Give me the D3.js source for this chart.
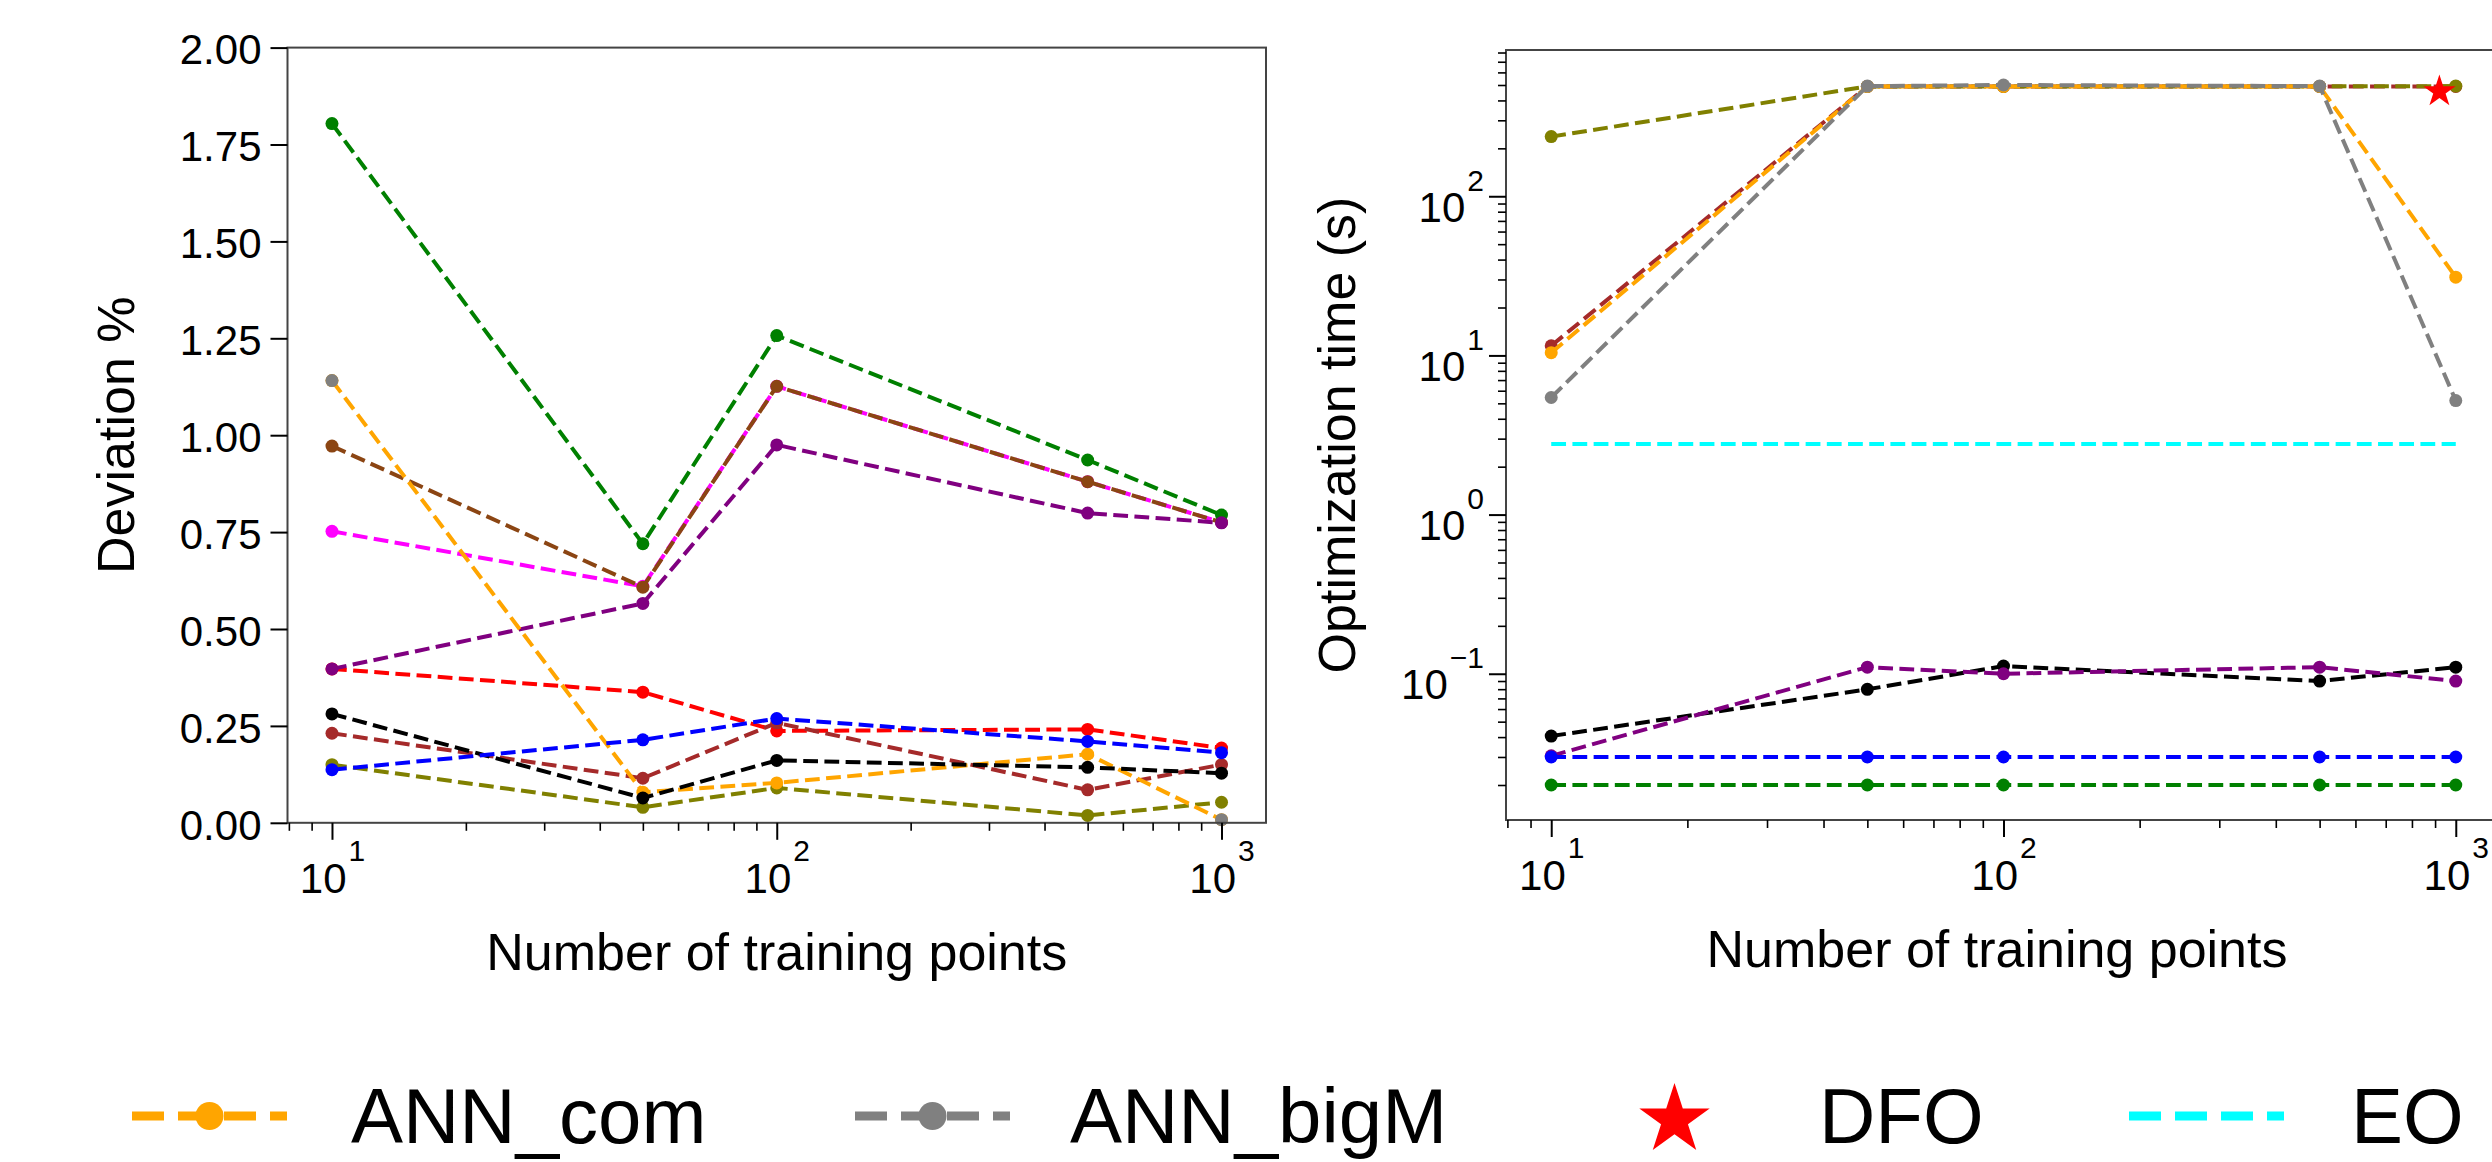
<!DOCTYPE html>
<html><head><meta charset="utf-8">
<script src="https://cdn.jsdelivr.net/npm/d3@7"></script>
<style>
html,body{margin:0;padding:0;background:#fff;}
svg{display:block;}
</style></head><body>
<svg id="chart" width="2492" height="1162"></svg>
<script>
// ---------------- DATA ----------------
const trainingPoints = [10, 50, 100, 500, 1000];

// Left panel: Deviation %
const devSaddleBrown = [0.972, 0.608, 1.126, 0.880, 0.775];
const devMagenta     = [0.752, 0.610, 1.126, 0.880, 0.775];
const devGreen       = [1.804, 0.720, 1.257, 0.936, 0.794];
const devRed         = [0.397, 0.337, 0.237, 0.241, 0.193];
const devPurple      = [0.397, 0.566, 0.975, 0.799, 0.774];
const devBrown       = [0.231, 0.115, 0.258, 0.085, 0.150];
const devOlive       = [0.150, 0.040, 0.090, 0.019, 0.053];
const devOrange      = [1.141, 0.079, 0.103, 0.177, 0.008];
const devGray        = [1.141, null, null, null, 0.008];
const devBlack       = [0.281, 0.064, 0.161, 0.143, 0.128];
const devBlue        = [0.137, 0.214, 0.269, 0.210, 0.181];

// Right panel: Optimization time (s)
const timeBrown  = [11.5, 490, 490, 490, 490];
const timeOlive  = [237, 490, 490, 490, 492];
const timeOrange = [10.4, 490, 490, 490, 31];
const timeGray   = [5.44, 492, 500, 492, 5.2];
const timeBlack  = [0.0406, 0.0798, 0.1117, 0.090, 0.110];
const timePurple = [0.0305, 0.110, 0.100, 0.110, 0.090];
const timeBlue   = [0.030, 0.030, 0.030, 0.030, 0.030];
const timeGreen  = [0.020, 0.020, 0.020, 0.020, 0.020];
const timeEO     = [2.78, 2.78, 2.78, 2.78, 2.78];
const dfoPoint   = [920, 455];

const devTicks = [0, 0.25, 0.5, 0.75, 1.0, 1.25, 1.5, 1.75, 2.0];
const devRange = [0, 2];
const logMajorX = [10, 100, 1000];
const logMajorY = [0.1, 1, 10, 100];

const legendLabels = ["ANN_com", "ANN_bigM", "DFO", "EO"];

// ---------------- STYLE ----------------
const FONT = '"Liberation Sans", Arial, Helvetica, sans-serif';
const LW = 4, DASH = "14.8,6.4", MR = 6.5;

const leftSeries = [
  {v: devMagenta, c: "#FF00FF"},
  {v: devSaddleBrown, c: "#8B4513"},
  {v: devGreen, c: "#008000"},
  {v: devRed, c: "#FF0000"},
  {v: devPurple, c: "#800080"},
  {v: devBrown, c: "#A52A2A"},
  {v: devOlive, c: "#808000"},
  {v: devOrange, c: "#FFA500"},
  {v: devGray, c: "#808080"},
  {v: devBlack, c: "#000000"},
  {v: devBlue, c: "#0000FF"}
];
const rightSeries = [
  {v: timeBrown, c: "#A52A2A"},
  {v: timeOlive, c: "#808000"},
  {v: timeOrange, c: "#FFA500"},
  {v: timeGray, c: "#808080"},
  {v: timeBlack, c: "#000000"},
  {v: timePurple, c: "#800080"},
  {v: timeBlue, c: "#0000FF"},
  {v: timeGreen, c: "#008000"}
];

const leftBox  = {x0: 287.5, x1: 1266, y0: 47.6, y1: 822.8};
const rightBox = {x0: 1506, x1: 2501, y0: 50, y1: 820};

const svg = d3.select("#chart").style("font-family", FONT);

function logPad(ext) {
  const a = Math.log10(ext[0]), b = Math.log10(ext[1]), p = (b - a) * 0.05;
  return [Math.pow(10, a - p), Math.pow(10, b + p)];
}
const isPow10 = v => Math.abs(Math.log10(v) - Math.round(Math.log10(v))) < 1e-9;

const xL = d3.scaleLog().domain(logPad(d3.extent(trainingPoints))).range([leftBox.x0, leftBox.x1]);
const yL = d3.scaleLinear().domain(devRange).range([leftBox.y1, leftBox.y0]);
const xR = d3.scaleLog().domain(logPad(d3.extent(trainingPoints))).range([rightBox.x0, rightBox.x1]);
const allTimes = [].concat(...rightSeries.map(s => s.v), timeEO).filter(v => v != null);
const yR = d3.scaleLog().domain(logPad(d3.extent(allTimes))).range([rightBox.y1, rightBox.y0]);

function starPath(R) {
  const r = R * 0.381966;
  const pts = [];
  for (let i = 0; i < 10; i++) {
    const ang = -Math.PI / 2 + i * Math.PI / 5;
    const rr = i % 2 === 0 ? R : r;
    pts.push([rr * Math.cos(ang), rr * Math.sin(ang)]);
  }
  return "M" + pts.map(p => p[0].toFixed(2) + "," + p[1].toFixed(2)).join("L") + "Z";
}

function styleTicks(g, w) {
  g.select(".domain").remove();
  g.selectAll(".tick line").attr("stroke", "#000").attr("stroke-width", w);
}

function powLabelX(g) {
  g.selectAll(".tick").each(function(d) {
    const t = d3.select(this);
    const e = String(Math.round(Math.log10(d))).replace("-", "\u2212");
    const sup = t.append("text").attr("x", 17).attr("y", 38)
      .attr("font-size", 30).attr("fill", "#000").attr("text-anchor", "start").text(e);
    const sw = sup.node().getComputedTextLength();
    const base = t.append("text").attr("y", 70).attr("font-size", 42).attr("fill", "#000")
      .attr("text-anchor", "end").text("10");
    const bw = base.node().getComputedTextLength();
    const total = bw + 2 + sw;
    const start = -total / 2;
    base.attr("x", start + bw);
    sup.attr("x", start + bw + 2);
  });
}
function powLabelY(g) {
  g.selectAll(".tick").each(function(d) {
    const t = d3.select(this);
    const e = String(Math.round(Math.log10(d))).replace("-", "\u2212");
    const sup = t.append("text").attr("x", -22).attr("y", -6)
      .attr("font-size", 30).attr("fill", "#000").attr("text-anchor", "end").text(e);
    const sw = sup.node().getComputedTextLength();
    t.append("text").attr("x", -22 - sw - 2).attr("y", 25).attr("font-size", 42)
      .attr("fill", "#000").attr("text-anchor", "end").text("10");
  });
}

function drawLines(g, series, x, y) {
  const line = d3.line().defined(d => d[1] != null).x(d => x(d[0])).y(d => y(d[1]));
  series.forEach(s => {
    const pts = trainingPoints.map((t, i) => [t, s.v[i]]);
    g.append("path").attr("d", line(pts)).attr("fill", "none")
      .attr("stroke", s.c).attr("stroke-width", LW).attr("stroke-dasharray", DASH);
    g.selectAll(null).data(pts.filter(p => p[1] != null)).enter().append("circle")
      .attr("cx", p => x(p[0])).attr("cy", p => y(p[1])).attr("r", MR).attr("fill", s.c);
  });
}

// ---------------- LEFT PANEL ----------------
const L = svg.append("g");
drawLines(L, leftSeries, xL, yL);
L.append("rect").attr("x", leftBox.x0).attr("y", leftBox.y0)
  .attr("width", leftBox.x1 - leftBox.x0).attr("height", leftBox.y1 - leftBox.y0)
  .attr("fill", "none").attr("stroke", "#444").attr("stroke-width", 2);

const lyAxis = L.append("g").attr("transform", `translate(${leftBox.x0},0)`)
  .call(d3.axisLeft(yL).tickValues(devTicks).tickSize(17).tickPadding(9).tickFormat(d3.format(".2f")));
styleTicks(lyAxis, 2);
lyAxis.selectAll("text").attr("font-size", 42).attr("fill", "#000").attr("font-family", FONT).attr("dy", "0.39em");

const lxMinor = L.append("g").attr("transform", `translate(0,${leftBox.y1})`)
  .call(d3.axisBottom(xL).tickValues(xL.ticks().filter(v => !isPow10(v))).tickSize(8).tickFormat(""));
styleTicks(lxMinor, 1.6);
const lxMajor = L.append("g").attr("transform", `translate(0,${leftBox.y1})`)
  .call(d3.axisBottom(xL).tickValues(logMajorX).tickSize(17).tickFormat(""));
styleTicks(lxMajor, 2);
powLabelX(lxMajor);
lxMajor.selectAll("text").attr("font-family", FONT);

L.append("text").attr("x", (leftBox.x0 + leftBox.x1) / 2).attr("y", leftBox.y1 + 147)
  .attr("text-anchor", "middle").attr("font-size", 52).attr("fill", "#000").text("Number of training points");
L.append("text").attr("transform", `translate(134,${(leftBox.y0 + leftBox.y1) / 2}) rotate(-90)`)
  .attr("text-anchor", "middle").attr("font-size", 52).attr("fill", "#000").text("Deviation %");

// ---------------- RIGHT PANEL ----------------
const R = svg.append("g");
R.append("path").attr("d", d3.line().x(d => xR(d[0])).y(d => yR(d[1]))(trainingPoints.map((t, i) => [t, timeEO[i]])))
  .attr("fill", "none").attr("stroke", "#00FFFF").attr("stroke-width", LW).attr("stroke-dasharray", DASH);
drawLines(R, rightSeries, xR, yR);
R.append("path").attr("d", starPath(17))
  .attr("transform", `translate(${xR(dfoPoint[0])},${yR(dfoPoint[1])})`).attr("fill", "#FF0000");
R.append("rect").attr("x", rightBox.x0).attr("y", rightBox.y0)
  .attr("width", rightBox.x1 - rightBox.x0).attr("height", rightBox.y1 - rightBox.y0)
  .attr("fill", "none").attr("stroke", "#444").attr("stroke-width", 2);

const ryMinor = R.append("g").attr("transform", `translate(${rightBox.x0},0)`)
  .call(d3.axisLeft(yR).tickValues(yR.ticks().filter(v => !isPow10(v))).tickSize(8).tickFormat(""));
styleTicks(ryMinor, 1.6);
const ryMajor = R.append("g").attr("transform", `translate(${rightBox.x0},0)`)
  .call(d3.axisLeft(yR).tickValues(logMajorY).tickSize(17).tickFormat(""));
styleTicks(ryMajor, 2);
powLabelY(ryMajor);
ryMajor.selectAll("text").attr("font-family", FONT);

const rxMinor = R.append("g").attr("transform", `translate(0,${rightBox.y1})`)
  .call(d3.axisBottom(xR).tickValues(xR.ticks().filter(v => !isPow10(v))).tickSize(8).tickFormat(""));
styleTicks(rxMinor, 1.6);
const rxMajor = R.append("g").attr("transform", `translate(0,${rightBox.y1})`)
  .call(d3.axisBottom(xR).tickValues(logMajorX).tickSize(17).tickFormat(""));
styleTicks(rxMajor, 2);
powLabelX(rxMajor);
rxMajor.selectAll("text").attr("font-family", FONT);

R.append("text").attr("x", 1997).attr("y", rightBox.y1 + 147)
  .attr("text-anchor", "middle").attr("font-size", 52).attr("fill", "#000").text("Number of training points");
R.append("text").attr("transform", `translate(1355,${(rightBox.y0 + rightBox.y1) / 2}) rotate(-90)`)
  .attr("text-anchor", "middle").attr("font-size", 52).attr("fill", "#000").text("Optimization time (s)");

// ---------------- LEGEND ----------------
const LG = svg.append("g");
const legY = 1116, legBase = 1143;
const legItems = [
  {label: legendLabels[0], type: "line", c: "#FFA500", x: 132, tx: 351, marker: true},
  {label: legendLabels[1], type: "line", c: "#808080", x: 855, tx: 1070, marker: true},
  {label: legendLabels[2], type: "star", c: "#FF0000", x: 1597, tx: 1819},
  {label: legendLabels[3], type: "line", c: "#00FFFF", x: 2129, tx: 2351, marker: false}
];
legItems.forEach(it => {
  if (it.type === "line") {
    LG.append("line").attr("x1", it.x).attr("x2", it.x + 155).attr("y1", legY).attr("y2", legY)
      .attr("stroke", it.c).attr("stroke-width", 9).attr("stroke-dasharray", "32,14");
    if (it.marker) LG.append("circle").attr("cx", it.x + 77.5).attr("cy", legY).attr("r", 14).attr("fill", it.c);
  } else {
    LG.append("path").attr("d", starPath(37)).attr("transform", `translate(${it.x + 77.5},${legY + 4})`).attr("fill", it.c);
  }
  LG.append("text").attr("x", it.tx).attr("y", legBase).attr("font-size", 78).attr("fill", "#000").text(it.label);
});
</script>
</body></html>
